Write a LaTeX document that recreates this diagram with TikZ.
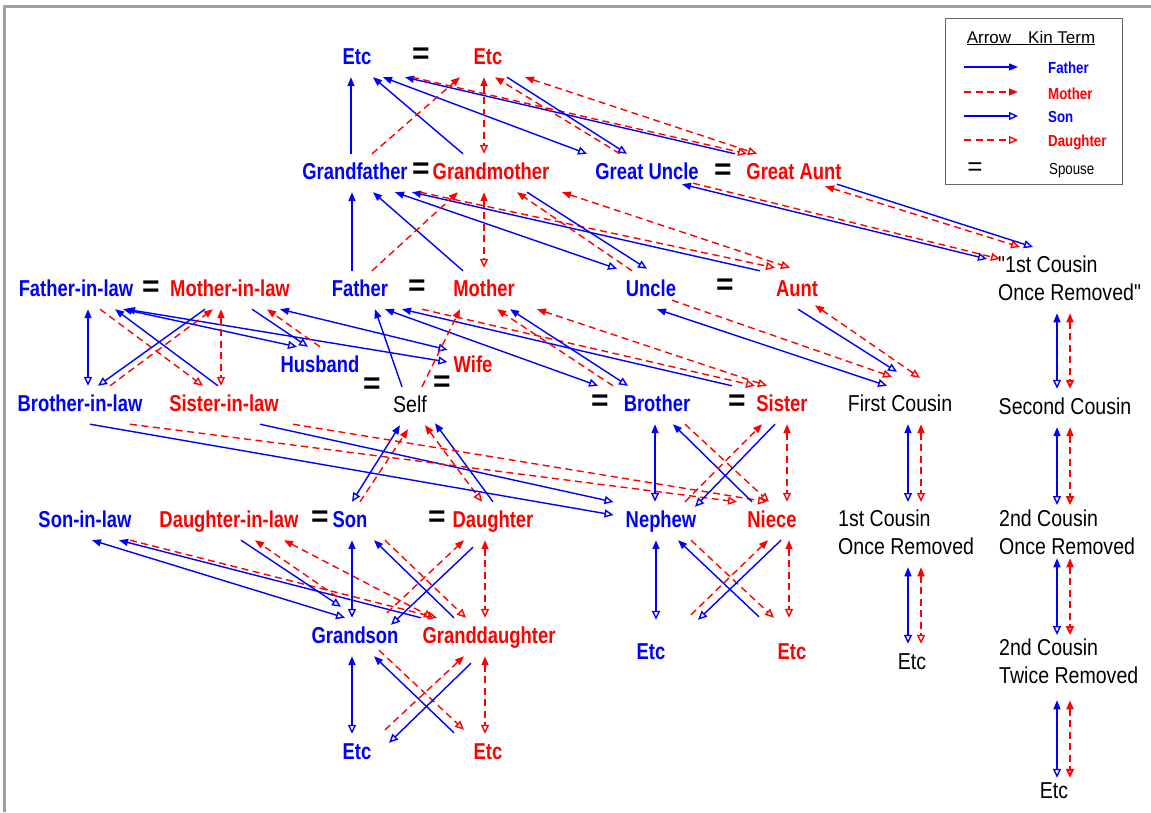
\documentclass[tikz,border=0pt]{standalone}
\usepackage{fontspec}
\usetikzlibrary{arrows.meta}
\newfontfamily\kinb[FakeStretch=0.8]{Liberation Sans}
\newfontfamily\kinr[FakeStretch=0.85]{Liberation Sans}
\newfontfamily\keyf{Liberation Sans}
\newfontfamily\keyn[FakeStretch=0.83]{Liberation Sans}
\tikzstyle{kin} = [inner sep=0pt, text height=25pt, text depth=13pt, font=\kinb\fontsize{23}{28}\selectfont\bfseries]
\tikzstyle{male} = [kin, text=blue]
\tikzstyle{female} = [kin, text=red]
\tikzstyle{neutral} = [inner sep=0pt, text height=25pt, text depth=13pt, font=\kinr\fontsize{23}{28}\selectfont]
\tikzstyle{cuz} = [inner sep=0pt, align=left, anchor=north west, font=\kinr\fontsize{23}{28}\selectfont]
\tikzstyle{spouse} = [inner sep=0pt, font=\keyf\fontsize{30}{30}\selectfont\bfseries]
\tikzstyle{fline} = [blue, line width=1.4pt]
\tikzstyle{mline} = [red, line width=1.4pt, dash pattern=on 7pt off 4.5pt]
\tikzstyle{topar} = [-{Triangle[length=9pt,width=7pt]}]
\tikzstyle{tokid} = [-{Triangle[open,length=9pt,width=8pt]}]
\tikzstyle{parkid} = [{Triangle[length=9pt,width=7pt]}-{Triangle[open,length=9pt,width=8pt]}]
\tikzstyle{keylabel} = [inner sep=0pt, anchor=base west, font=\keyn\fontsize{16}{18}\selectfont]
\tikzstyle{keybold} = [inner sep=0pt, anchor=base west, font=\keyn\fontsize{16}{18}\selectfont\bfseries]

\begin{document}
\begin{tikzpicture}[x=1pt, y=-1pt]
  \useasboundingbox (0,0) rectangle (1151,812);
  \draw[gray!75, line width=3pt] (4,812) -- (4,6) -- (1151,6);

  % generations, top to bottom
  \node[male] (etcF) at (357,58) {Etc};
  \node[spouse] (eq1) at (421,56) {=};
  \node[female] (etcM) at (488,58) {Etc};

  \node[male] (gf) at (355,173) {Grandfather};
  \node[spouse] (eq2) at (421,171) {=};
  \node[female] (gm) at (491,173) {Grandmother};
  \node[male] (gu) at (647,173) {Great Uncle};
  \node[spouse] (eq3) at (723,172) {=};
  \node[female] (ga) at (794,173) {Great Aunt};

  \node[male] (fil) at (76,290) {Father-in-law};
  \node[spouse] (eq4) at (151,289) {=};
  \node[female] (mil) at (230,290) {Mother-in-law};
  \node[male] (fa) at (360,290) {Father};
  \node[spouse] (eq5) at (417,288) {=};
  \node[female] (mo) at (484,290) {Mother};
  \node[male] (un) at (651,290) {Uncle};
  \node[spouse] (eq6) at (725,287) {=};
  \node[female] (au) at (797,290) {Aunt};
  \node[cuz] (cor) at (998,256) {"1st Cousin\\Once Removed"};

  \node[male] (hu) at (320,366) {Husband};
  \node[female] (wi) at (473,366) {Wife};
  \node[spouse] (eq7) at (372,386) {=};
  \node[spouse] (eq8) at (442,384) {=};

  \node[male] (bil) at (80,405) {Brother-in-law};
  \node[female] (sil) at (224,405) {Sister-in-law};
  \node[neutral] (self) at (410,406) {Self};
  \node[spouse] (eq9) at (600,403) {=};
  \node[male] (br) at (657,405) {Brother};
  \node[spouse] (eq10) at (737,403) {=};
  \node[female] (si) at (782,405) {Sister};
  \node[neutral] (fc) at (900,405) {First Cousin};
  \node[neutral] (sc) at (1065,408) {Second Cousin};

  \node[male] (sonil) at (85,521) {Son-in-law};
  \node[female] (dil) at (229,521) {Daughter-in-law};
  \node[spouse] (eq11) at (320,519) {=};
  \node[male] (so) at (350,521) {Son};
  \node[spouse] (eq12) at (437,519) {=};
  \node[female] (da) at (493,521) {Daughter};
  \node[male] (ne) at (661,521) {Nephew};
  \node[female] (ni) at (772,521) {Niece};
  \node[cuz] (cor1) at (838,510) {1st Cousin\\Once Removed};
  \node[cuz] (cor2) at (999,510) {2nd Cousin\\Once Removed};

  \node[male] (gs) at (355,637) {Grandson};
  \node[female] (gd) at (489,637) {Granddaughter};
  \node[male] (etcN) at (651,653) {Etc};
  \node[female] (etcO) at (792,653) {Etc};
  \node[neutral] (etcP) at (912,663) {Etc};
  \node[cuz] (ctr) at (999,639) {2nd Cousin\\Twice Removed};

  \node[male] (etcS) at (357,753) {Etc};
  \node[female] (etcD) at (488,753) {Etc};
  \node[neutral] (etcQ) at (1054,792) {Etc};

  % great-grandparents
  \draw[fline,topar] ([xshift=-4pt]gf.north) -- ([xshift=-6pt]etcF.south);
  \draw[fline,topar] ([xshift=-28pt]gm.north) -- ([xshift=16pt]etcF.south);
  \draw[fline,parkid] ([xshift=26pt]etcF.south) -- ([xshift=-60pt]gu.north);
  \draw[fline,topar] ([xshift=-59pt]ga.north) -- ([xshift=48pt]etcF.south);
  \draw[mline,tokid] ([xshift=55pt]etcF.south) -- ([xshift=-47pt]ga.north);
  \draw[mline,topar] ([xshift=17pt]gf.north) -- ([xshift=-28pt]etcM.south);
  \draw[mline,parkid] ([xshift=-4pt]etcM.south) -- ([xshift=-7pt]gm.north);
  \draw[fline,tokid] ([xshift=19pt]etcM.south) -- ([xshift=-20pt]gu.north);
  \draw[mline,topar] ([xshift=-27pt]gu.north) -- ([xshift=7pt]etcM.south);
  \draw[mline,parkid] ([xshift=37pt]etcM.south) -- ([xshift=-37pt]ga.north);
  \draw[fline,parkid] ([xshift=35pt,yshift=8pt]gu.south) -- ([xshift=-11pt,yshift=-3pt]cor.north west);
  \draw[mline,tokid] ([xshift=46pt,yshift=9pt]gu.south) -- ([xshift=2pt,yshift=-3pt]cor.north west);
  \draw[fline,tokid] ([xshift=43pt,yshift=8pt]ga.south) -- ([xshift=35pt,yshift=9pt]cor.north west);
  \draw[mline,parkid] ([xshift=31pt,yshift=6pt]ga.south) -- ([xshift=22pt,yshift=9pt]cor.north west);

  % grandparents
  \draw[fline,topar] ([xshift=-8pt]fa.north) -- ([xshift=-3pt]gf.south);
  \draw[fline,topar] ([xshift=-21pt]mo.north) -- ([xshift=18pt]gf.south);
  \draw[fline,parkid] ([xshift=40pt]gf.south) -- ([xshift=-34pt,yshift=2pt]un.north);
  \draw[fline,topar] ([xshift=-37pt]au.north) -- ([xshift=57pt]gf.south);
  \draw[mline,tokid] ([xshift=65pt]gf.south) -- ([xshift=-22pt,yshift=3pt]au.north);
  \draw[mline,topar] ([xshift=12pt]fa.north) -- ([xshift=-33pt]gm.south);
  \draw[mline,parkid] ([xshift=-7pt]gm.south) -- ([yshift=3pt]mo.north);
  \draw[fline,tokid] ([xshift=36pt]gm.south) -- ([xshift=-4pt,yshift=2pt]un.north);
  \draw[mline,topar] ([xshift=-19pt]un.north) -- ([xshift=26pt]gm.south);
  \draw[mline,parkid] ([xshift=71pt]gm.south) -- ([xshift=-7pt,yshift=3pt]au.north);

  % in-laws
  \draw[fline,parkid] ([xshift=12pt]fil.south) -- ([xshift=8pt]bil.north);
  \draw[mline,tokid] ([xshift=24pt]fil.south) -- ([xshift=-21pt]sil.north);
  \draw[fline,topar] ([xshift=-6pt]sil.north) -- ([xshift=39pt]fil.south);
  \draw[fline,parkid] ([xshift=47pt]fil.south) -- ([xshift=-23pt]hu.north);
  \draw[fline,parkid] ([xshift=50pt]fil.south) -- ([xshift=-6pt,yshift=4pt]wi.west);
  \draw[fline,parkid] ([xshift=50pt]mil.south) -- ([xshift=-6pt,yshift=-3pt]wi.north west);
  \draw[fline,tokid] ([xshift=-25pt]mil.south) -- ([xshift=18pt]bil.north);
  \draw[mline,topar] ([xshift=30pt]bil.north) -- ([xshift=-17pt]mil.south);
  \draw[mline,parkid] ([xshift=-9pt]mil.south) -- ([xshift=-3pt]sil.north);
  \draw[fline,tokid] ([xshift=22pt]mil.south) -- ([xshift=-12pt]hu.north);
  \draw[mline,topar] (hu.north) -- ([xshift=37pt]mil.south);

  % parents
  \draw[fline,topar] ([xshift=-8pt]self.north) -- ([xshift=15pt]fa.south);
  \draw[fline,parkid] ([xshift=25pt]fa.south) -- ([xshift=-59pt]br.north);
  \draw[fline,topar] ([xshift=-50pt]si.north) -- ([xshift=42pt]fa.south);
  \draw[mline,tokid] ([xshift=62pt]fa.south) -- ([xshift=-27pt]si.north);
  \draw[mline,topar] ([xshift=12pt]self.north) -- ([xshift=-24pt]mo.south);
  \draw[mline,topar] ([xshift=-44pt]br.north) -- ([xshift=13pt]mo.south);
  \draw[fline,parkid] ([xshift=26pt]mo.south) -- ([xshift=-29pt]br.north);
  \draw[mline,parkid] ([xshift=53pt]mo.south) -- ([xshift=-15pt]si.north);

  % uncle and aunt
  \draw[fline,parkid] ([xshift=6pt]un.south) -- ([xshift=-13pt]fc.north);
  \draw[mline,tokid] ([xshift=21pt,yshift=9pt]un.south) -- ([xshift=-8pt,yshift=9pt]fc.north);
  \draw[mline,parkid] ([xshift=18pt,yshift=4pt]au.south) -- ([xshift=20pt,yshift=8pt]fc.north);
  \draw[fline,tokid] ([xshift=1pt]au.south) -- ([xshift=-3pt,yshift=14pt]fc.north);

  % children
  \draw[fline,parkid] ([xshift=-10pt]self.south) -- ([xshift=2pt]so.north);
  \draw[mline,topar] ([xshift=10pt]so.north) -- ([xshift=-2pt,yshift=-4pt]self.south);
  \draw[mline,parkid] ([xshift=15pt]self.south) -- ([xshift=-11pt]da.north);
  \draw[fline,topar] (da.north) -- ([xshift=25pt,yshift=2pt]self.south);

  % nephew and niece
  \draw[fline,tokid] ([xshift=10pt]bil.south) -- ([xshift=-12pt,yshift=6pt]ne.west);
  \draw[fline,tokid] ([xshift=36pt]sil.south) -- ([xshift=-12pt,yshift=19pt]ne.west);
  \draw[mline,tokid] ([xshift=50pt]bil.south) -- ([xshift=-35pt]ni.north);
  \draw[mline,tokid] ([xshift=69pt]sil.south) -- ([xshift=-5pt]ni.north);
  \draw[fline,parkid] ([xshift=-2pt]br.south) -- ([xshift=-6pt]ne.north);
  \draw[fline,topar] ([xshift=-20pt]ni.north) -- ([xshift=16pt]br.south);
  \draw[mline,tokid] ([xshift=28pt]br.south) -- ([xshift=-3pt]ni.north);
  \draw[mline,topar] ([xshift=24pt]ne.north) -- ([xshift=-20pt]si.south);
  \draw[fline,tokid] ([xshift=-7pt]si.south) -- ([xshift=34pt,yshift=-5pt]ne.north);
  \draw[mline,parkid] ([xshift=5pt]si.south) -- ([xshift=15pt]ni.north);

  % grandchildren
  \draw[fline,parkid] ([xshift=7pt]sonil.south) -- ([xshift=-10pt]gs.north);
  \draw[fline,topar] ([xshift=-68pt]gd.north) -- ([xshift=34pt]sonil.south);
  \draw[mline,tokid] ([xshift=45pt]sonil.south) -- ([xshift=-52pt]gd.north);
  \draw[fline,tokid] ([xshift=12pt]dil.south) -- ([xshift=-14pt,yshift=11pt]gs.north);
  \draw[mline,topar] ([xshift=-18pt,yshift=21pt]gs.north) -- ([xshift=26pt]dil.south);
  \draw[mline,parkid] ([xshift=55pt]dil.south) -- ([xshift=-56pt]gd.north);
  \draw[fline,parkid] ([xshift=2pt]so.south) -- ([xshift=-3pt]gs.north);
  \draw[mline,tokid] ([xshift=35pt]so.south) -- ([xshift=-23pt]gd.north);
  \draw[fline,topar] ([xshift=-35pt]gd.north) -- ([xshift=24pt]so.south);
  \draw[fline,tokid] ([xshift=-20pt,yshift=-7pt]da.south) -- ([xshift=36pt,yshift=-7pt]gs.north);
  \draw[mline,topar] ([xshift=32pt,yshift=5pt]gs.north) -- ([xshift=-29pt]da.south);
  \draw[mline,parkid] ([xshift=-8pt]da.south) -- ([xshift=-4pt]gd.north);

  \draw[fline,parkid] ([xshift=-3pt]gs.south) -- ([xshift=-5pt]etcS.north);
  \draw[mline,tokid] ([xshift=24pt,yshift=6pt]gs.south) -- ([xshift=-24pt,yshift=4pt]etcD.north);
  \draw[fline,topar] ([xshift=-34pt,yshift=1pt]etcD.north) -- ([xshift=19pt]gs.south);
  \draw[fline,tokid] ([xshift=-18pt,yshift=-7pt]gd.south) -- ([xshift=32pt,yshift=-9pt]etcS.north);
  \draw[mline,topar] ([xshift=28pt,yshift=4pt]etcS.north) -- ([xshift=-25pt]gd.south);
  \draw[mline,parkid] ([xshift=-4pt]gd.south) -- ([xshift=-3pt]etcD.north);

  \draw[fline,parkid] ([xshift=-5pt]ne.south) -- ([xshift=5pt,yshift=14pt]etcN.north);
  \draw[fline,topar] ([xshift=-33pt,yshift=17pt]etcO.north) -- ([xshift=17pt]ne.south);
  \draw[mline,tokid] ([xshift=30pt]ne.south) -- ([xshift=-18pt,yshift=16pt]etcO.north);
  \draw[fline,tokid] ([xshift=9pt]ni.south) -- ([xshift=47pt,yshift=14pt]etcN.north);
  \draw[mline,topar] ([xshift=40pt,yshift=19pt]etcN.north) -- ([xshift=-4pt]ni.south);
  \draw[mline,parkid] ([xshift=17pt]ni.south) -- ([xshift=-3pt,yshift=16pt]etcO.north);

  % cousins
  \draw[fline,parkid] ([xshift=8pt]fc.south) -- ([xshift=70pt,yshift=8pt]cor1.north west);
  \draw[mline,parkid] ([xshift=21pt]fc.south) -- ([xshift=83pt,yshift=8pt]cor1.north west);
  \draw[fline,parkid] ([xshift=70pt,yshift=-12pt]cor1.south west) -- ([xshift=-4pt]etcP.north);
  \draw[mline,parkid] ([xshift=83pt,yshift=-12pt]cor1.south west) -- ([xshift=9pt]etcP.north);
  \draw[fline,parkid] ([xshift=59pt,yshift=-12pt]cor.south west) -- ([xshift=-8pt]sc.north);
  \draw[mline,parkid,line width=2pt] ([xshift=72pt,yshift=-12pt]cor.south west) -- ([xshift=5pt]sc.north);
  \draw[fline,parkid] ([xshift=-8pt]sc.south) -- ([xshift=58pt,yshift=5pt]cor2.north west);
  \draw[mline,parkid,line width=2pt] ([xshift=5pt]sc.south) -- ([xshift=71pt,yshift=5pt]cor2.north west);
  \draw[fline,parkid] ([xshift=58pt,yshift=-3pt]cor2.south west) -- ([xshift=58pt,yshift=4pt]ctr.north west);
  \draw[mline,parkid,line width=2pt] ([xshift=71pt,yshift=-3pt]cor2.south west) -- ([xshift=71pt,yshift=4pt]ctr.north west);
  \draw[fline,parkid] ([xshift=58pt,yshift=-16pt]ctr.south west) -- ([xshift=3pt,yshift=-5pt]etcQ.north);
  \draw[mline,parkid,line width=2pt] ([xshift=71pt,yshift=-16pt]ctr.south west) -- ([xshift=16pt,yshift=-5pt]etcQ.north);

  % key
  \node[draw=black!60, line width=1pt, minimum width=177pt, minimum height=166pt, anchor=north west, inner sep=0pt] (key) at (945,18) {};
  \node[inner sep=0pt, font=\keyf\fontsize{17}{19}\selectfont] (keyhead) at (1031,38) {\underline{Arrow\quad Kin Term}};
  \node[keybold, text=blue] (kfa) at (1048,73) {Father};
  \node[keybold, text=red] (kmo) at (1048,99) {Mother};
  \node[keybold, text=blue] (kso) at (1048,122) {Son};
  \node[keybold, text=red] (kda) at (1048,146) {Daughter};
  \node[keylabel] (ksp) at (1049,174) {Spouse};
  \node[inner sep=0pt, font=\keyf\fontsize{26}{26}\selectfont] (keq) at (975,169) {=};
  \draw[fline,topar] ([xshift=-84pt,yshift=6pt]kfa.base west) -- ([xshift=-30pt,yshift=6pt]kfa.base west);
  \draw[mline,topar] ([xshift=-84pt,yshift=7pt]kmo.base west) -- ([xshift=-30pt,yshift=7pt]kmo.base west);
  \draw[fline,tokid] ([xshift=-84pt,yshift=6pt]kso.base west) -- ([xshift=-30pt,yshift=6pt]kso.base west);
  \draw[mline,tokid] ([xshift=-84pt,yshift=6pt]kda.base west) -- ([xshift=-30pt,yshift=6pt]kda.base west);
\end{tikzpicture}
\end{document}
